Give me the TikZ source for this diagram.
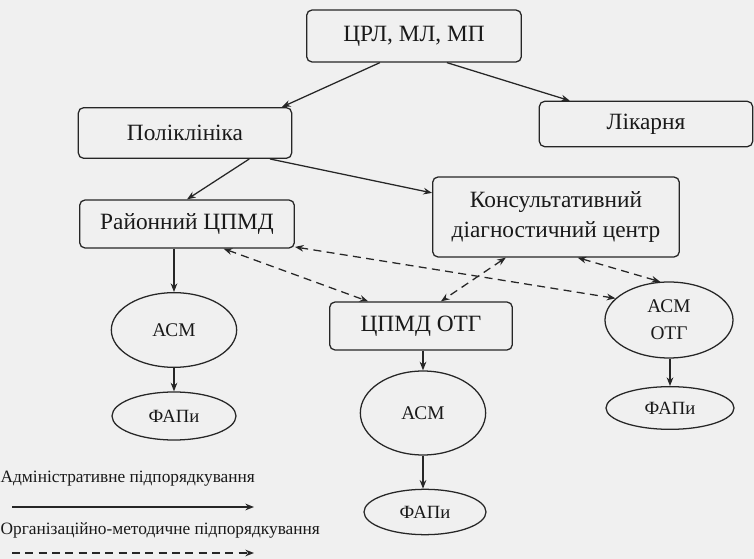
\documentclass[tikz,border=0pt]{standalone}
\usepackage{fontspec}
\setmainfont{Liberation Serif}
\usetikzlibrary{positioning}
\usetikzlibrary{shapes.geometric}
\usetikzlibrary{arrows.meta}

\begin{document}
\begin{tikzpicture}[x=0.75pt, y=-0.75pt,
    >={Stealth[length=6.5pt,width=5pt]},
    line width=0.95pt, draw=black!85, text=black!90,
    box/.style={draw, rounded corners=4pt, minimum width=161pt, minimum height=37pt,
        inner sep=2pt, font=\fontsize{17.5}{20}\selectfont},
    oval/.style={draw, ellipse, inner sep=0pt, minimum width=94pt,
        font=\fontsize{14.5}{17}\selectfont},
    meth/.style={dash pattern=on 6pt off 4pt},
    legend/.style={anchor=west, inner sep=0pt, font=\fontsize{13}{15}\selectfont}]
    \fill [gray!12] (0, 0) rectangle (754, 559);
    \useasboundingbox (0, 0) rectangle (754, 559);

    \path (414, 36) node [box, minimum height=39pt] (crl) {ЦРЛ, МЛ, МП};
    \path (185, 133) node [box, minimum width=160pt, minimum height=38pt] (poly) {Поліклініка};
    \path (646, 124) node [box, minimum width=160pt, minimum height=34pt] (lik) {Лікарня};
    \path (187, 224) node [box, minimum height=36pt] (rayon) {Районний ЦПМД};
    \path (556, 217) node [box, minimum width=185pt, minimum height=60pt, align=center,
        font=\fontsize{17.5}{23}\selectfont] (kdc) {Консультативний\\діагностичний центр};
    \path (421, 326) node [box, minimum width=137pt, minimum height=36pt] (cotg) {ЦПМД ОТГ};

    \path (174, 330) node [oval, minimum height=56pt] (asm1) {АСМ};
    \path (174, 416) node [oval, minimum width=93pt, minimum height=36pt,
        font=\fontsize{14}{16}\selectfont] (fap1) {ФАПи};
    \path (423, 413) node [oval, minimum height=63pt] (asm2) {АСМ};
    \path (425, 512) node [oval, minimum width=91.5pt, minimum height=34pt,
        font=\fontsize{14}{16}\selectfont] (fap2) {ФАПи};
    \path (669, 320) node [oval, minimum width=96pt, minimum height=57pt, align=center,
        font=\fontsize{14.5}{20}\selectfont] (asmotg) {АСМ\\ОТГ};
    \path (670, 408) node [oval, minimum width=96pt, minimum height=32pt,
        font=\fontsize{14}{16}\selectfont] (fap3) {ФАПи};

    \draw [->] (crl.218) -- (poly.15);
    \draw [->] (crl.321) -- (lik.163);
    \draw [->] (poly.338) -- (rayon.north);
    \draw [->] (poly.343) -- (kdc.169);
    \draw [->] (rayon.south -| asm1.north) -- (asm1.north);
    \draw [->] (asm1.south) -- (asm1.south |- fap1.north);
    \draw [->] (cotg.south -| asm2.north) -- (asm2.north);
    \draw [->] (asm2.south) -- (asm2.south |- fap2.north);
    \draw [->] (asmotg.south -| fap3.north) -- (fap3.north);

    \draw [<->, meth] (rayon.326) -- (cotg.155);
    \draw [<->, meth] (rayon.348) -- (asmotg.158);
    \draw [<->, meth] (kdc.219) -- (cotg.51);
    \draw [<->, meth] (kdc.298) -- (asmotg.103);

    \path (0, 479) node [legend] (adm) {Адміністративне підпорядкування};
    \coordinate (adma) at (12, 507);
    \coordinate (admb) at (254, 507);
    \draw [->] (adma) -- (admb);
    \path (0, 530) node [legend] (org) {Організаційно-методичне підпорядкування};
    \coordinate (orga) at (12, 553);
    \coordinate (orgb) at (254, 553);
    \draw [->, meth] (orga) -- (orgb);
\end{tikzpicture}
\end{document}
